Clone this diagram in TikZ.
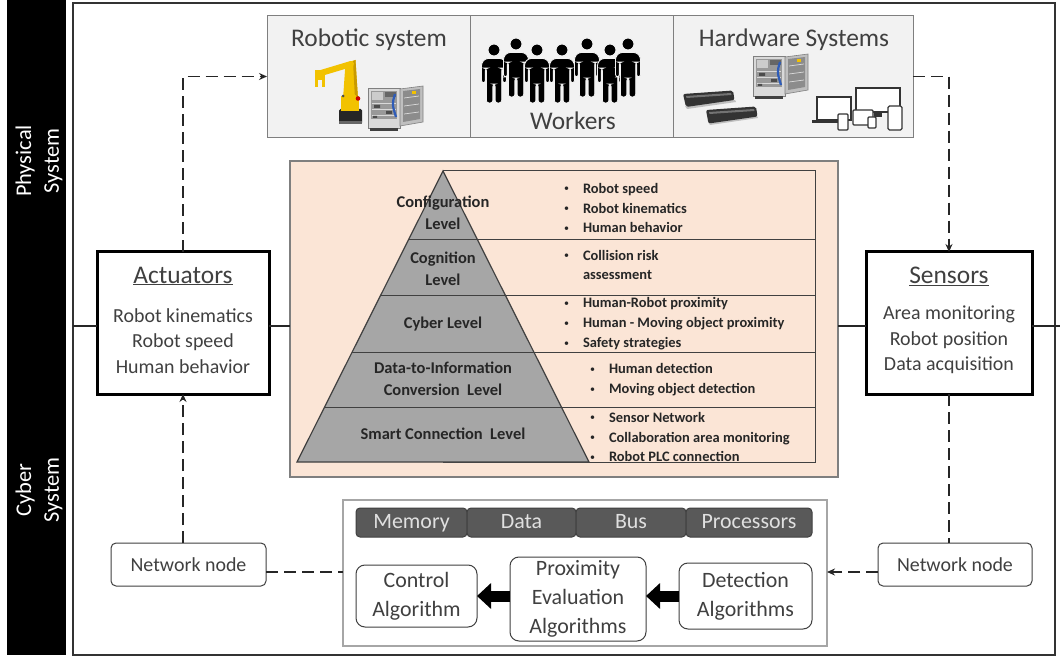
\documentclass[tikz,border=0pt]{standalone}
\usepackage{fontspec}
\setmainfont{Carlito}
\usetikzlibrary{arrows.meta,calc}

\definecolor{tgray}{HTML}{404040}
\definecolor{peach}{HTML}{FBE5D6}
\definecolor{cellfill}{HTML}{F2F2F2}
\definecolor{cellline}{HTML}{7F7F7F}
\definecolor{pyrfill}{HTML}{A6A6A6}
\definecolor{darkbar}{HTML}{595959}
\definecolor{robotyellow}{HTML}{F2C200}
\definecolor{robotshade}{HTML}{C99A00}
\definecolor{cablblue}{HTML}{2E5CB8}

\newcommand\fsz[2]{\fontsize{#1}{#2}\selectfont}
\newcommand\bi{\makebox[20bp][l]{\hspace{1bp}\raisebox{1.2bp}{\mdseries\fsz{10}{10}•}}}

\tikzset{
  every node/.style={inner sep=0pt, outer sep=0pt},
  topcell/.style={draw=cellline, fill=cellfill, line width=1bp, minimum height=121bp},
  celltitle/.style={text=tgray, font=\fsz{25.5}{30}},
  mainbox/.style={draw=black, fill=white, line width=3bp, minimum width=170bp, minimum height=142bp},
  boxtitle/.style={text=tgray, font=\fsz{25.5}{30}},
  boxitems/.style={text=tgray, font=\fsz{20}{25.5}, align=center},
  netnode/.style={draw=tgray, fill=white, line width=1bp, rounded corners=5bp,
    minimum height=43bp, text=tgray, font=\fsz{20}{24}},
  barcell/.style={draw=tgray, fill=darkbar, line width=1bp, rounded corners=4bp,
    minimum height=29bp, text height=15bp, text depth=4bp, text=black!12, font=\fsz{22}{26}},
  algbox/.style={draw=tgray, fill=white, line width=1bp, rounded corners=9bp,
    text=tgray, font=\fsz{22}{29}, align=center},
  pyrlabel/.style={text=black!85, font=\bfseries\fsz{16.5}{22}, align=center},
  bullets/.style={text=black!85, font=\bfseries\fsz{14.5}{20}, align=left, anchor=west},
  sidelabel/.style={text=white, font=\fsz{22.5}{28}, align=center, rotate=90},
  flowdash/.style={draw=black!85, line width=1.8bp, dash pattern=on 12bp off 6bp},
  flowarrow/.style={flowdash, -{Stealth[length=8bp, width=7bp]}},
  blockarrow/.style={draw=black, line width=11bp, -{Triangle[length=14bp, width=25bp]}},
  midline/.style={draw=black!85, line width=1.8bp},
  % a worker silhouette, head centre at the origin
  worker/.pic={
    \filldraw[fill=black, draw=cellfill, line width=0.9bp] (0,0) circle (6);
    \filldraw[fill=black, draw=cellfill, line width=0.9bp, rounded corners=2.6bp]
      (-12.5,33) -- (-12.5,13) -- (-8.5,8.5) -- (8.5,8.5) -- (12.5,13) -- (12.5,33)
      -- (8.6,33) -- (8.6,18) -- (7.7,18) -- (7.7,53) -- (1.1,53) -- (1.1,34)
      -- (-1.1,34) -- (-1.1,53) -- (-7.7,53) -- (-7.7,18) -- (-8.6,18) -- (-8.6,33) -- cycle;
  },
  % an electrical cabinet with its door open, origin at the top left corner
  cabinet/.pic={
    \filldraw[fill=black!15, draw=black!50, line width=0.6bp] (0,0) rectangle (32,40);
    \fill[black!40] (3,3) rectangle (29,31);
    \fill[black!20] (4,4) rectangle (15,12);
    \fill[black!60] (17,4) rectangle (28,9);
    \draw[white!85!black, line width=0.8bp] (4,15) -- (28,15) (4,21) -- (28,21) (4,27) -- (28,27);
    \fill[black!70] (6,17) rectangle (12,20) (18,23) rectangle (24,26) (5,28) rectangle (9,30);
    \draw[cablblue, line width=2.2bp] (27,6) .. controls (24,16) .. (28,29);
    \fill[black!75] (2,40) rectangle (30,43);
    \filldraw[fill=black!25, draw=black!50, line width=0.6bp] (32,1) -- (55,-2) -- (55,34) -- (32,38) -- cycle;
    \fill[black!45] (35,3) -- (52,1) -- (52,31) -- (35,34) -- cycle;
    \draw[black!15, line width=0.7bp] (36,10) -- (51,8) (36,18) -- (51,16) (36,26) -- (51,24);
    \fill[robotyellow] (44,3.5) rectangle (48,6.5);
  },
}

\begin{document}
\begin{tikzpicture}[x=1bp, y=-1bp]
\useasboundingbox (0,0) rectangle (1060,662);
\fill[white] (0,0) rectangle (1060,662);

% side band with the two system names
\fill[black] (7,0) rectangle (66,655);
\node[sidelabel] (physlabel) at (39,161) {Physical\\System};
\node[sidelabel] (cyberlabel) at (39,490) {Cyber\\System};

% outer frame
\node[draw=black!80, line width=1.6bp, minimum width=982bp, minimum height=652bp] (frame) at (564,329) {};

% horizontal divider between physical and cyber parts
\coordinate (mid) at (0,326);
\coordinate (busy) at (0,572);
\coordinate (rend) at (1060,326);

% ---------- physical system strip ----------
\node[topcell, minimum width=203bp] (cellA) at (368.5,76.5) {};
\node[topcell, minimum width=203bp] (cellB) at (571.5,76.5) {};
\node[topcell, minimum width=240bp] (cellC) at (793,76.5) {};
\node[celltitle] (tA) at (369,40) {Robotic system};
\node[celltitle] (tB) at (573,121) {Workers};
\node[celltitle] (tC) at (794,40) {Hardware Systems};

% industrial robot
\fill[black!85, rounded corners=1.5bp] (339,109) rectangle (362,124);
\fill[black!60] (339,121) rectangle (362,124);
\fill[robotyellow] (341,96) rectangle (359,111);
\fill[robotyellow] (343,99) -- (345.5,63) -- (355.5,60) -- (358,99) -- cycle;
\fill[robotshade] (353,61) -- (355.5,60) -- (358,99) -- (355,99) -- cycle;
\fill[robotyellow] (350,101) circle (8);
\draw[robotyellow, line width=6bp, line cap=round] (351,64) -- (321,73);
\fill[robotyellow] (315,70) rectangle (325,80);
\draw[robotyellow, line width=2.4bp] (316.5,79) -- (316.5,87) (323.5,79) -- (323.5,87);
\fill[red!80!black] (358,98.5) circle (2.3);
\fill[black!70] (343,96) circle (1.5);
\pic at (368,88) {cabinet};

% workers
\foreach \hx/\hy in {494/50, 516/44, 537/50, 562/50, 587/44, 610/50, 628/44}
  \pic at (\hx,\hy) {worker};

% hardware: depth sensors, cabinet, devices
\fill[black!25] (685,106) -- (735,100) -- (736,102) -- (687,109) -- cycle;
\fill[black!80, rounded corners=2bp] (683,94) -- (733,90.5) -- (734.5,100) -- (686,107) -- cycle;
\fill[black!55] (686,96) -- (731,93) -- (731.5,95) -- (686.5,98) -- cycle;
\fill[black!25] (708,122) -- (757,116) -- (758,118) -- (710,125) -- cycle;
\fill[black!80, rounded corners=2bp] (706,110) -- (756,106.5) -- (757.5,116.5) -- (708.5,123.5) -- cycle;
\fill[black!55] (709,112) -- (754,109) -- (754.5,111) -- (709.5,114) -- cycle;
\pic at (753,56) {cabinet};
\begin{scope}[draw=black!80, line width=1.3bp, fill=white]
  \filldraw (856,88) rectangle (900,112);
  \fill[black!80] (874,112) rectangle (882,117);
  \filldraw (817,97) rectangle (851,120);
  \fill[black!80] (812,120) rectangle (848,123);
  \filldraw[rounded corners=1bp] (853,110) rectangle (873,125);
  \filldraw[rounded corners=1bp] (838,114) rectangle (848,130);
  \filldraw[rounded corners=1bp] (868,117) rectangle (876,128);
  \filldraw[rounded corners=1.5bp] (888,106) rectangle (902,130);
\end{scope}

% ---------- actuators and sensors ----------
\node[mainbox, minimum width=172bp] (act) at (183,323) {};
\node[boxtitle] (actT) at (183,276) {\underline{Actuators}};
\node[boxitems] (actI) at (183,341) {Robot kinematics\\Robot speed\\Human behavior};
\node[mainbox, minimum width=166bp] (sens) at (949,323) {};
\node[boxtitle] (sensT) at (949,276) {\underline{Sensors}};
\node[boxitems] (sensI) at (949,340) {Area monitoring\\Robot position\\Data acquisition};

% ---------- 5C pyramid ----------
\node[draw=cellline, fill=peach, line width=1.2bp, minimum width=548bp, minimum height=316bp] (pyr) at (564,319) {};
\filldraw[fill=peach, draw=tgray, line width=1bp] (443,171) rectangle (815,462);
\filldraw[fill=pyrfill, draw=tgray, line width=1.2bp] (443,171) -- (589,462) -- (297,462) -- cycle;
\draw[tgray, line width=1bp]
  (408.9,239) -- (815,239)
  (380.8,295) -- (815,295)
  (352.2,352) -- (815,352)
  (324.6,407) -- (815,407);
\node[pyrlabel] (lv5) at (443,213) {Configuration\\Level};
\node[pyrlabel] (lv4) at (443,269) {Cognition\\Level};
\node[pyrlabel] (lv3) at (443,324) {Cyber Level};
\node[pyrlabel] (lv2) at (443,379) {Data-to-Information\\Conversion\ \ Level};
\node[pyrlabel] (lv1) at (443,434) {Smart Connection\ \ Level};
\node[bullets] (b5) at (563,208) {\bi Robot speed\\\bi Robot kinematics\\\bi Human behavior};
\node[bullets] (b4) at (563,265) {\bi Collision risk\\\hspace*{20bp}assessment};
\node[bullets] (b3) at (563,324) {\bi Human-Robot proximity\\\bi Human - Moving object proximity\\\bi Safety strategies};
\node[bullets] (b2) at (589,380) {\bi Human detection\\\bi Moving object detection};
\node[bullets] (b1) at (589,437) {\bi Sensor Network\\\bi Collaboration area monitoring\\\bi Robot PLC connection};

% ---------- cyber system: computing unit ----------
\node[draw=black!35, fill=white, line width=1.2bp, minimum width=484bp, minimum height=146bp] (alg) at (585,573) {};
\node[barcell, minimum width=111bp] (mem) at (411.5,522.5) {Memory};
\node[barcell, minimum width=109bp] (dat) at (521.5,522.5) {Data};
\node[barcell, minimum width=110bp] (bus) at (631,522.5) {Bus};
\node[barcell, minimum width=126bp] (proc) at (749,522.5) {Processors};
\node[algbox, minimum width=121bp, minimum height=62bp] (ctrl) at (416.5,596) {Control\\Algorithm};
\node[algbox, minimum width=136bp, minimum height=84bp] (prox) at (578,599) {Proximity\\Evaluation\\Algorithms};
\node[algbox, minimum width=133bp, minimum height=66bp] (det) at (745.5,596) {Detection\\Algorithms};
\draw[blockarrow] (prox.west |- ctrl.east) -- (ctrl.east);
\draw[blockarrow] (det.west) -- (prox.east |- det.west);

% network nodes
\node[netnode, minimum width=155bp] (nnL) at (188.5,564.5) {Network node};
\node[netnode, minimum width=154bp] (nnR) at (955,564.5) {Network node};

% ---------- connectors ----------
\draw[midline] (frame.west |- mid) -- (act.west |- mid);
\draw[midline] (act.east |- mid) -- (pyr.west |- mid);
\draw[midline] (pyr.east |- mid) -- (sens.west |- mid);
\draw[midline] (sens.east |- mid) -- (rend);

\draw[flowarrow] (act.north) |- (cellA.west);
\draw[flowarrow] (cellC.east) -| (sens.north);
\draw[flowarrow] (nnL.north -| act.south) -- (act.south);
\draw[flowdash] (sens.south) -- (sens.south |- nnR.north);
\draw[flowdash] (nnL.east |- busy) -- (alg.west |- busy);
\draw[flowarrow] (nnR.west |- busy) -- (alg.east |- busy);
\end{tikzpicture}
\end{document}
